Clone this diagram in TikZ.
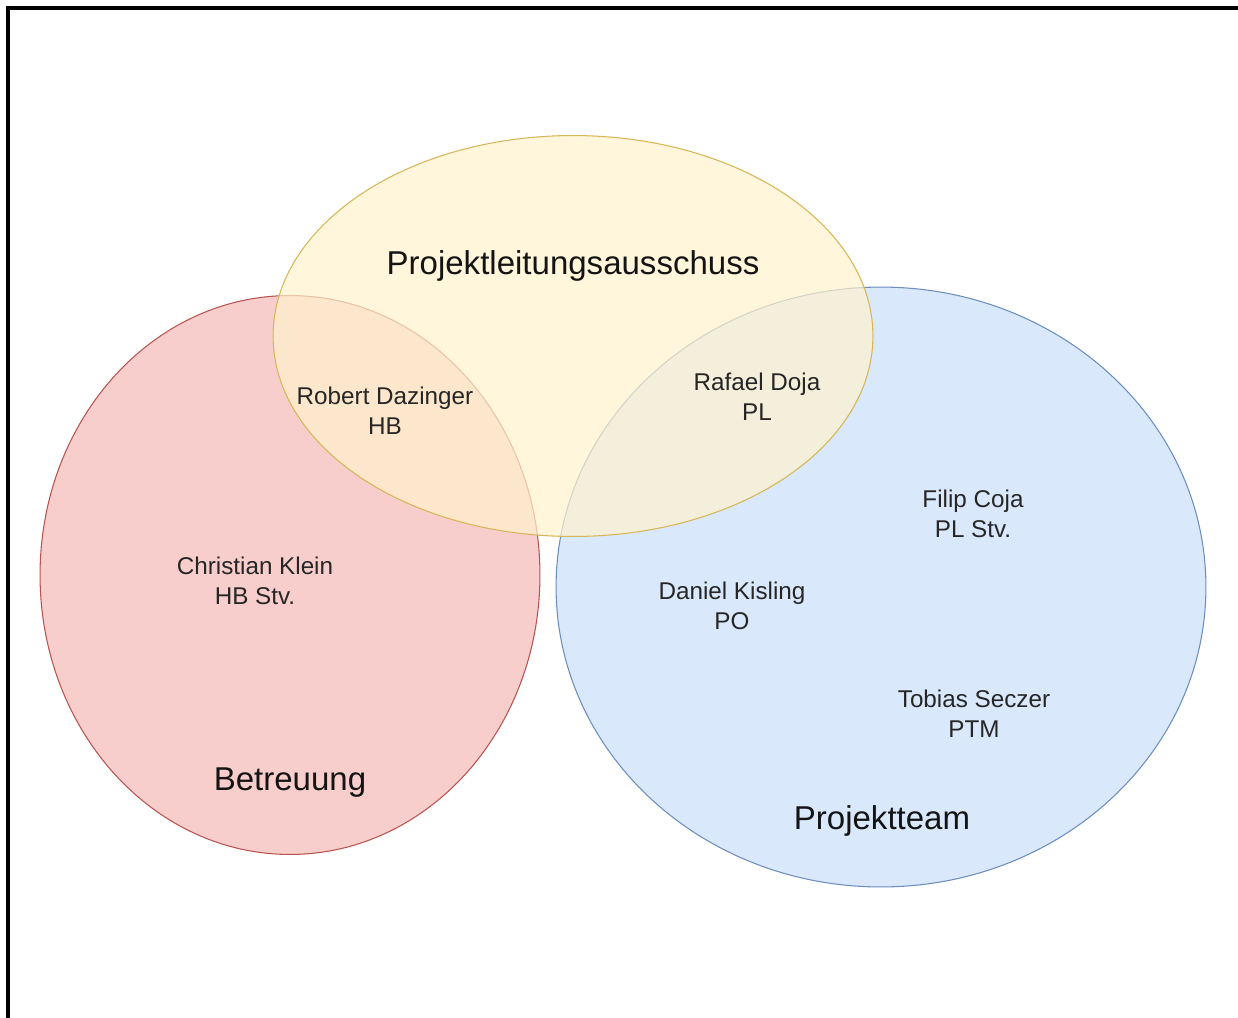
\documentclass[tikz,border=0pt]{standalone}
\usepackage{fontspec}
\setmainfont{Liberation Sans}
\usetikzlibrary{shapes.geometric}

\definecolor{redfill}{HTML}{F8CECC}
\definecolor{redline}{HTML}{B85450}
\definecolor{yellowfill}{HTML}{FFF2CC}
\definecolor{yellowline}{HTML}{D6B656}
\definecolor{bluefill}{HTML}{DAE8FC}
\definecolor{blueline}{HTML}{6C8EBF}

\begin{document}
\begin{tikzpicture}[
        x=0.02cm, y=-0.02cm,
        group/.style={ellipse, draw, line width=0.6pt, inner sep=0pt},
        member/.style={align=center, font=\fontsize{13.8}{17}\selectfont, text=black!85},
        title/.style={font=\fontsize{18.8}{22}\selectfont, text=black!92}
    ]
        \useasboundingbox (0,0) rectangle (1238,1018);

        % Frame
        \draw[line width=1.8pt] (8,1018) -- (8,8) -- (1238,8);

        % Groups
        \node[group, draw=redline, fill=redfill, minimum width=10cm, minimum height=11.18cm] (betreuung) at (290,575) {};
        \node[group, draw=blueline, fill=bluefill, minimum width=13cm, minimum height=12cm] (team) at (881,587) {};
        \node[group, draw=yellowline, fill=yellowfill, fill opacity=0.7, minimum width=12cm, minimum height=8.02cm] (ausschuss) at (573,336) {};

        \node[title] (ausschusslabel) at (573,266) {Projektleitungsausschuss};
        \node[title] (betreuunglabel) at (290,783) {Betreuung};
        \node[title] (teamlabel) at (882,821) {Projektteam};

        % Members
        \node[member] (dazinger) at (385,411) {Robert Dazinger\\HB};
        \node[member] (doja) at (757,397) {Rafael Doja\\PL};
        \node[member] (klein) at (255,581) {Christian Klein\\HB Stv.};
        \node[member] (coja) at (973,514) {Filip Coja\\PL Stv.};
        \node[member] (kisling) at (732,606) {Daniel Kisling\\PO};
        \node[member] (seczer) at (974,714) {Tobias Seczer\\PTM};
    \end{tikzpicture}
\end{document}
